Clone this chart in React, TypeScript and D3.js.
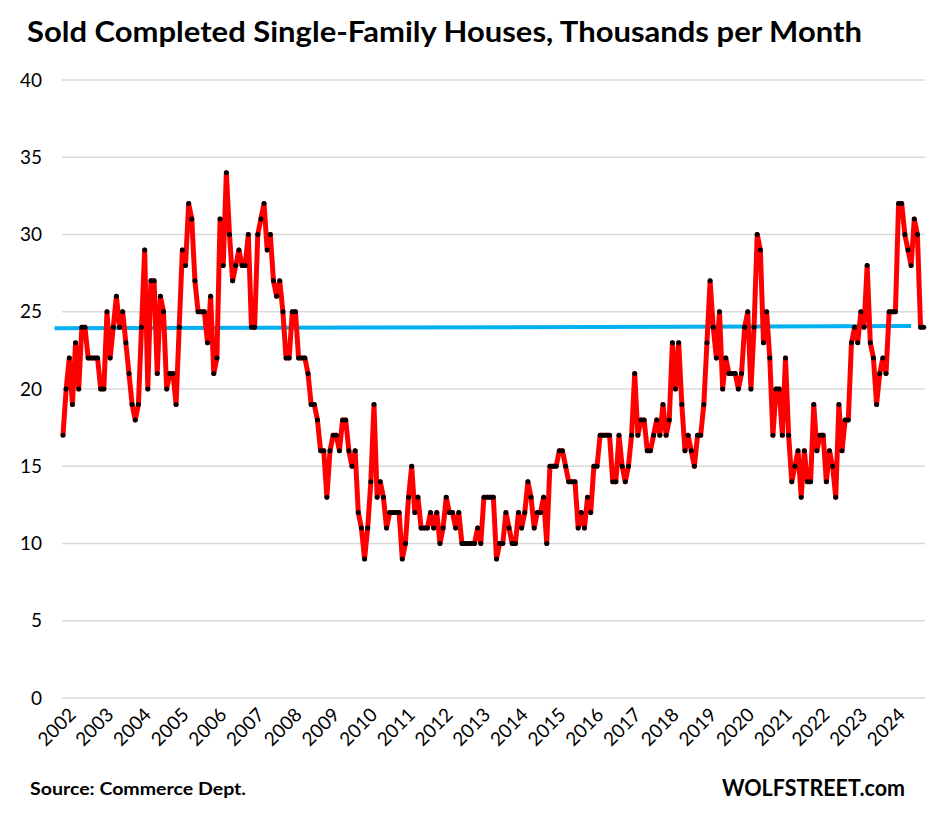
import * as d3 from "d3";

// monthly sales, thousands (Jan..Dec)
const sold2002 = [17, 20, 22, 19, 23, 20, 24, 24, 22, 22, 22, 22];
const sold2003 = [20, 20, 25, 22, 24, 26, 24, 25, 23, 21, 19, 18];
const sold2004 = [19, 24, 29, 20, 27, 27, 21, 26, 25, 20, 21, 21];
const sold2005 = [19, 24, 29, 28, 32, 31, 27, 25, 25, 25, 23, 26];
const sold2006 = [21, 22, 31, 28, 34, 30, 27, 28, 29, 28, 28, 30];
const sold2007 = [24, 24, 30, 31, 32, 29, 30, 27, 26, 27, 25, 22];
const sold2008 = [22, 25, 25, 22, 22, 22, 21, 19, 19, 18, 16, 16];
const sold2009 = [13, 16, 17, 17, 16, 18, 18, 16, 15, 16, 12, 11];
const sold2010 = [9, 11, 14, 19, 13, 14, 13, 11, 12, 12, 12, 12];
const sold2011 = [9, 10, 13, 15, 12, 13, 11, 11, 11, 12, 11, 12];
const sold2012 = [10, 11, 13, 12, 12, 11, 12, 10, 10, 10, 10, 10];
const sold2013 = [11, 10, 13, 13, 13, 13, 9, 10, 10, 12, 11, 10];
const sold2014 = [10, 12, 11, 12, 14, 13, 11, 12, 12, 13, 10, 15];
const sold2015 = [15, 15, 16, 16, 15, 14, 14, 14, 11, 12, 11, 13];
const sold2016 = [12, 15, 15, 17, 17, 17, 17, 14, 14, 17, 15, 14];
const sold2017 = [15, 17, 21, 17, 18, 18, 16, 16, 17, 18, 17, 19];
const sold2018 = [17, 18, 23, 20, 23, 19, 16, 17, 16, 15, 17, 17];
const sold2019 = [19, 23, 27, 24, 22, 25, 20, 22, 21, 21, 21, 20];
const sold2020 = [21, 24, 25, 20, 24, 30, 29, 23, 25, 22, 17, 20];
const sold2021 = [20, 17, 22, 17, 14, 15, 16, 13, 16, 14, 14, 19];
const sold2022 = [16, 17, 17, 14, 16, 15, 13, 19, 16, 18, 18, 23];
const sold2023 = [24, 23, 25, 24, 28, 23, 22, 19, 21, 22, 21, 25];
const sold2024 = [25, 25, 32, 32, 30, 29, 28, 31, 30, 24, 24];

const yearLabels = [
  "2002", "2003", "2004", "2005", "2006", "2007", "2008", "2009",
  "2010", "2011", "2012", "2013", "2014", "2015", "2016", "2017",
  "2018", "2019", "2020", "2021", "2022", "2023", "2024",
];
const yTicks = [0, 5, 10, 15, 20, 25, 30, 35, 40];

// blue trend line: [month index, value] at both ends
const trendIdx = [-2.7, 270];
const trendVal = [23.93, 24.07];

const sold = [
  ...sold2002, ...sold2003, ...sold2004, ...sold2005, ...sold2006,
  ...sold2007, ...sold2008, ...sold2009, ...sold2010, ...sold2011,
  ...sold2012, ...sold2013, ...sold2014, ...sold2015, ...sold2016,
  ...sold2017, ...sold2018, ...sold2019, ...sold2020, ...sold2021,
  ...sold2022, ...sold2023, ...sold2024,
];

const W = 936;
const H = 817;
const FONT = "Lato, 'Open Sans', sans-serif";

export default function App() {
  const x = d3.scaleLinear().domain([0, sold.length - 1]).range([63, 923.7]);
  const y = d3.scaleLinear().domain([0, 40]).range([698, 80]);

  const line = d3
    .line<number>()
    .x((_, i) => x(i))
    .y((d) => y(d));

  const trend = trendIdx.map((t, k) => [x(t), y(trendVal[k])] as [number, number]);

  return (
    <svg
      width={W}
      height={H}
      style={{ position: "absolute", left: 0, top: 0, background: "#fff" }}
      fontFamily={FONT}
    >
      <text x={27} y={42} fontSize={29} fontWeight="bold" textLength={835} lengthAdjust="spacingAndGlyphs">
        Sold Completed Single-Family Houses, Thousands per Month
      </text>

      {yTicks.map((t) => (
        <g key={t}>
          <line x1={62} x2={925} y1={y(t)} y2={y(t)} stroke="#D9D9D9" strokeWidth={1.4} />
          <text x={42} y={y(t)} dy="0.35em" textAnchor="end" fontSize={19} fill="#000">
            {t}
          </text>
        </g>
      ))}

      {yearLabels.map((lab, k) => (
        <text
          key={lab}
          transform={`translate(${x(k * 12) + 14},716) rotate(-45)`}
          textAnchor="end"
          fontSize={19}
          fill="#000"
        >
          {lab}
        </text>
      ))}

      <line
        x1={trend[0][0]}
        y1={trend[0][1]}
        x2={trend[1][0]}
        y2={trend[1][1]}
        stroke="#00B0F0"
        strokeWidth={4}
      />

      <path d={line(sold) ?? ""} fill="none" stroke="#FF0000" strokeWidth={5} strokeLinejoin="round" />
      {sold.map((v, i) => (
        <circle key={i} cx={x(i)} cy={y(v)} r={2.5} fill="#000" />
      ))}

      <text x={30} y={795} fontSize={16.5} fontWeight="bold" textLength={216} lengthAdjust="spacingAndGlyphs">
        Source: Commerce Dept.
      </text>
      <text x={905} y={796} fontSize={22} fontWeight="bold" textAnchor="end" textLength={183} lengthAdjust="spacingAndGlyphs">
        WOLFSTREET.com
      </text>
    </svg>
  );
}
